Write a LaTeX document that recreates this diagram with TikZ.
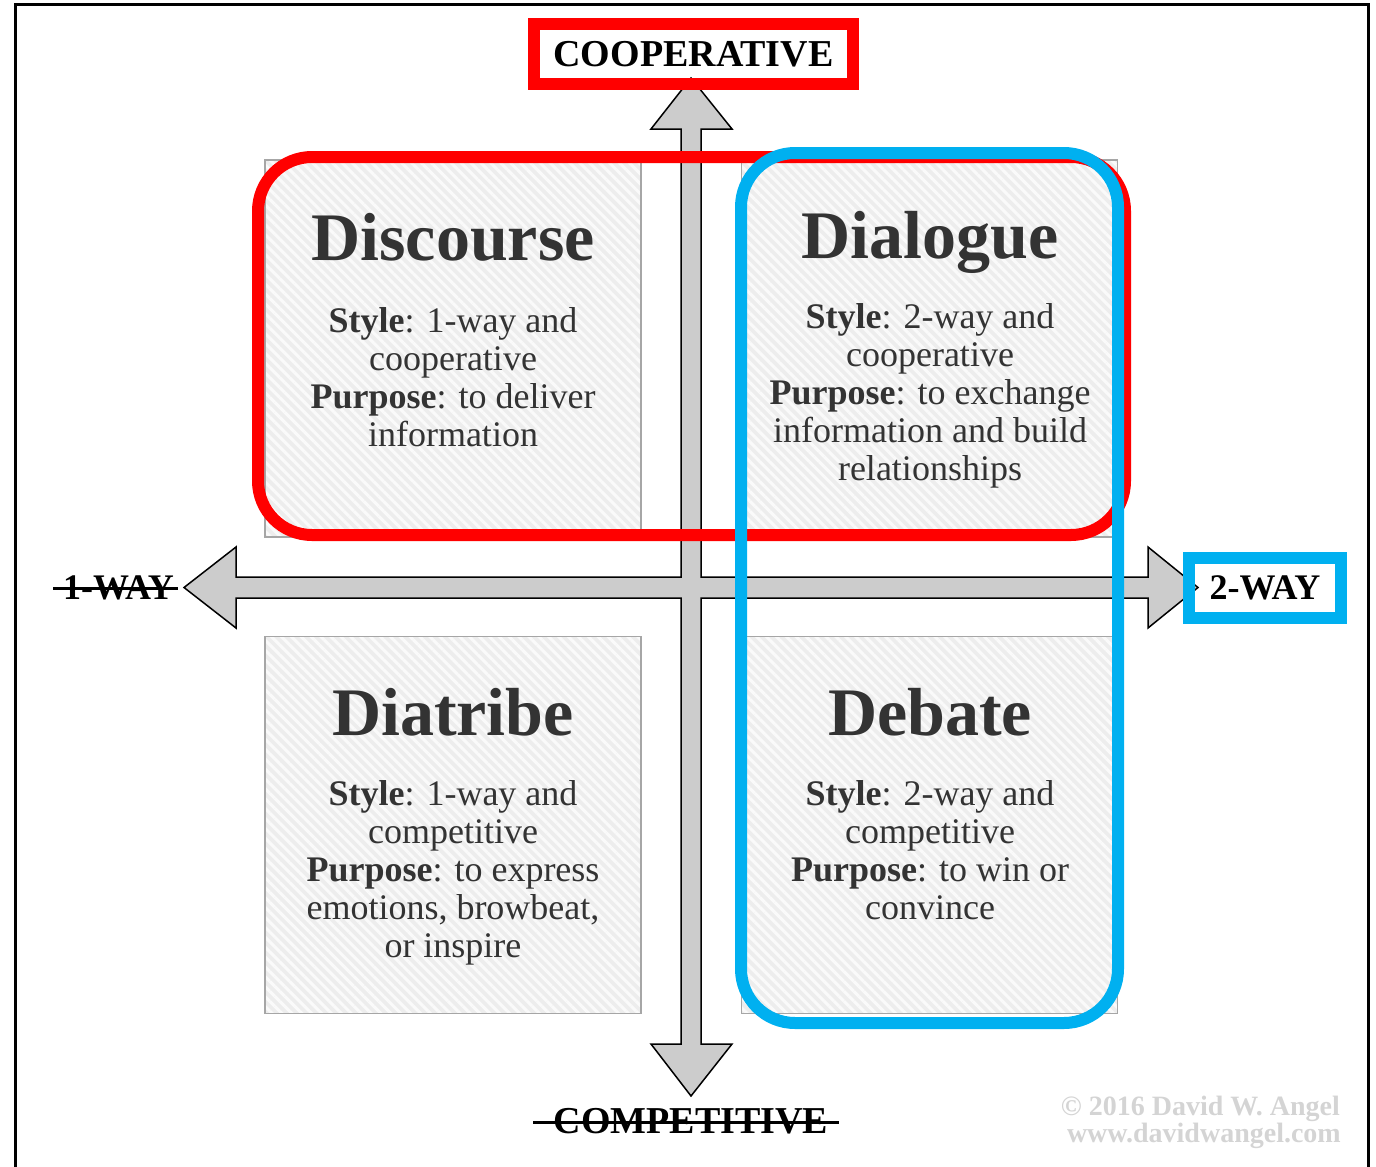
\documentclass[tikz,border=0pt]{standalone}
\usepackage{fontspec}
\setmainfont{Liberation Serif}
\usetikzlibrary{patterns.meta,calc}
\definecolor{myred}{HTML}{FF0000}
\definecolor{myblue}{HTML}{00B0F0}
\definecolor{txt}{HTML}{333333}
\definecolor{arrowfill}{HTML}{CCCCCC}
\definecolor{boxfill}{HTML}{EDEDED}
\definecolor{stripe}{HTML}{FAFAFA}
\definecolor{boxline}{HTML}{A6A6A6}
\definecolor{copygray}{HTML}{D4D4D4}
\begin{document}
\begin{tikzpicture}[x=1pt,y=-1pt,
  quad/.style={draw=boxline, line width=1.5pt, preaction={fill=boxfill},
    pattern={Lines[angle=-45,distance=7pt,line width=3pt]}, pattern color=stripe,
    minimum width=376pt, minimum height=377pt, inner sep=0pt},
  title/.style={font=\fontsize{68}{72}\selectfont\bfseries, text=txt, anchor=base, inner sep=0pt},
  body/.style={font=\fontsize{36}{38}\selectfont, text=txt, align=center, anchor=north, inner sep=0pt},
  axislabel/.style={font=\fontsize{36}{40}\selectfont\bfseries, text=black, inner sep=0pt},
  framedlabel/.style={axislabel, line width=12pt, minimum height=60pt},
  arrowshape/.style={draw=black, fill=arrowfill, line width=1.5pt, line join=miter},
  loop/.style={line width=12pt, rounded corners=54pt},
  copyright/.style={font=\fontsize{28}{30}\selectfont\bfseries, text=copygray, anchor=base east, inner sep=0pt}
]
\useasboundingbox (0,0) rectangle (1376,1167);
% outer frame
\draw[line width=3pt, line join=miter] (15,1170) -- (15,4) -- (1368,4) -- (1368,1170);

% quadrant boxes
\node[quad] (tlbox) at (453,348.5) {};
\node[quad] (trbox) at (929.5,348.5) {};
\node[quad] (blbox) at (453,825) {};
\node[quad] (brbox) at (929.5,825) {};

% quadrant texts
\node[title] (t1) at (453,260) {Discourse};
\node[body] (b1) at (453,304) {\rule{0pt}{28pt}\textbf{Style}: 1-way and\\ cooperative\\ \textbf{Purpose}: to deliver\\ information};
\node[title] (t2) at (930,258) {Dialogue};
\node[body] (b2) at (930,300) {\rule{0pt}{28pt}\textbf{Style}: 2-way and\\ cooperative\\ \textbf{Purpose}: to exchange\\ information and build\\ relationships};
\node[title] (t3) at (453,735) {Diatribe};
\node[body] (b3) at (453,777) {\rule{0pt}{28pt}\textbf{Style}: 1-way and\\ competitive\\ \textbf{Purpose}: to express\\ emotions, browbeat,\\ or inspire};
\node[title] (t4) at (930,735) {Debate};
\node[body] (b4) at (930,777) {\rule{0pt}{28pt}\textbf{Style}: 2-way and\\ competitive\\ \textbf{Purpose}: to win or\\ convince};

% four-way arrow
\draw[arrowshape] (691,78) -- (732,129) -- (701,129) -- (701,577) -- (1148,577) -- (1148,547)
  -- (1198,587.5) -- (1148,628) -- (1148,598) -- (701,598) -- (701,1044) -- (732,1044)
  -- (691,1096) -- (651,1044) -- (681,1044) -- (681,598) -- (236,598) -- (236,628)
  -- (184,587.5) -- (236,547) -- (236,577) -- (681,577) -- (681,129) -- (651,129) -- cycle;

% highlight loops
\draw[loop, myred] (258,157) rectangle (1125,535);
\draw[loop, myblue] (741,153) rectangle (1118,1023);

% axis labels
\node[framedlabel, draw=myred, minimum width=319pt, font=\fontsize{38}{40}\selectfont\bfseries] (coop) at (693.5,54) {COOPERATIVE};
\node[framedlabel, draw=myblue, minimum width=152pt] (twoway) at (1265,588) {2-WAY};
\node[axislabel, anchor=base] (oneway) at (118.5,599) {1-WAY};
\draw[line width=3pt] ($(oneway.base)+(-65.5,-11)$) -- ($(oneway.base)+(59.5,-11)$);
\node[axislabel, anchor=base, font=\fontsize{38}{40}\selectfont\bfseries] (comp) at (691,1133) {COMPETITIVE};
\draw[line width=3pt] ($(comp.base)+(-158,-11)$) -- ($(comp.base)+(148,-11)$);

% copyright
\node[copyright] (c1) at (1340,1115) {© 2016 David W. Angel};
\node[copyright] (c2) at (1341,1142) {www.davidwangel.com};
\end{tikzpicture}
\end{document}
